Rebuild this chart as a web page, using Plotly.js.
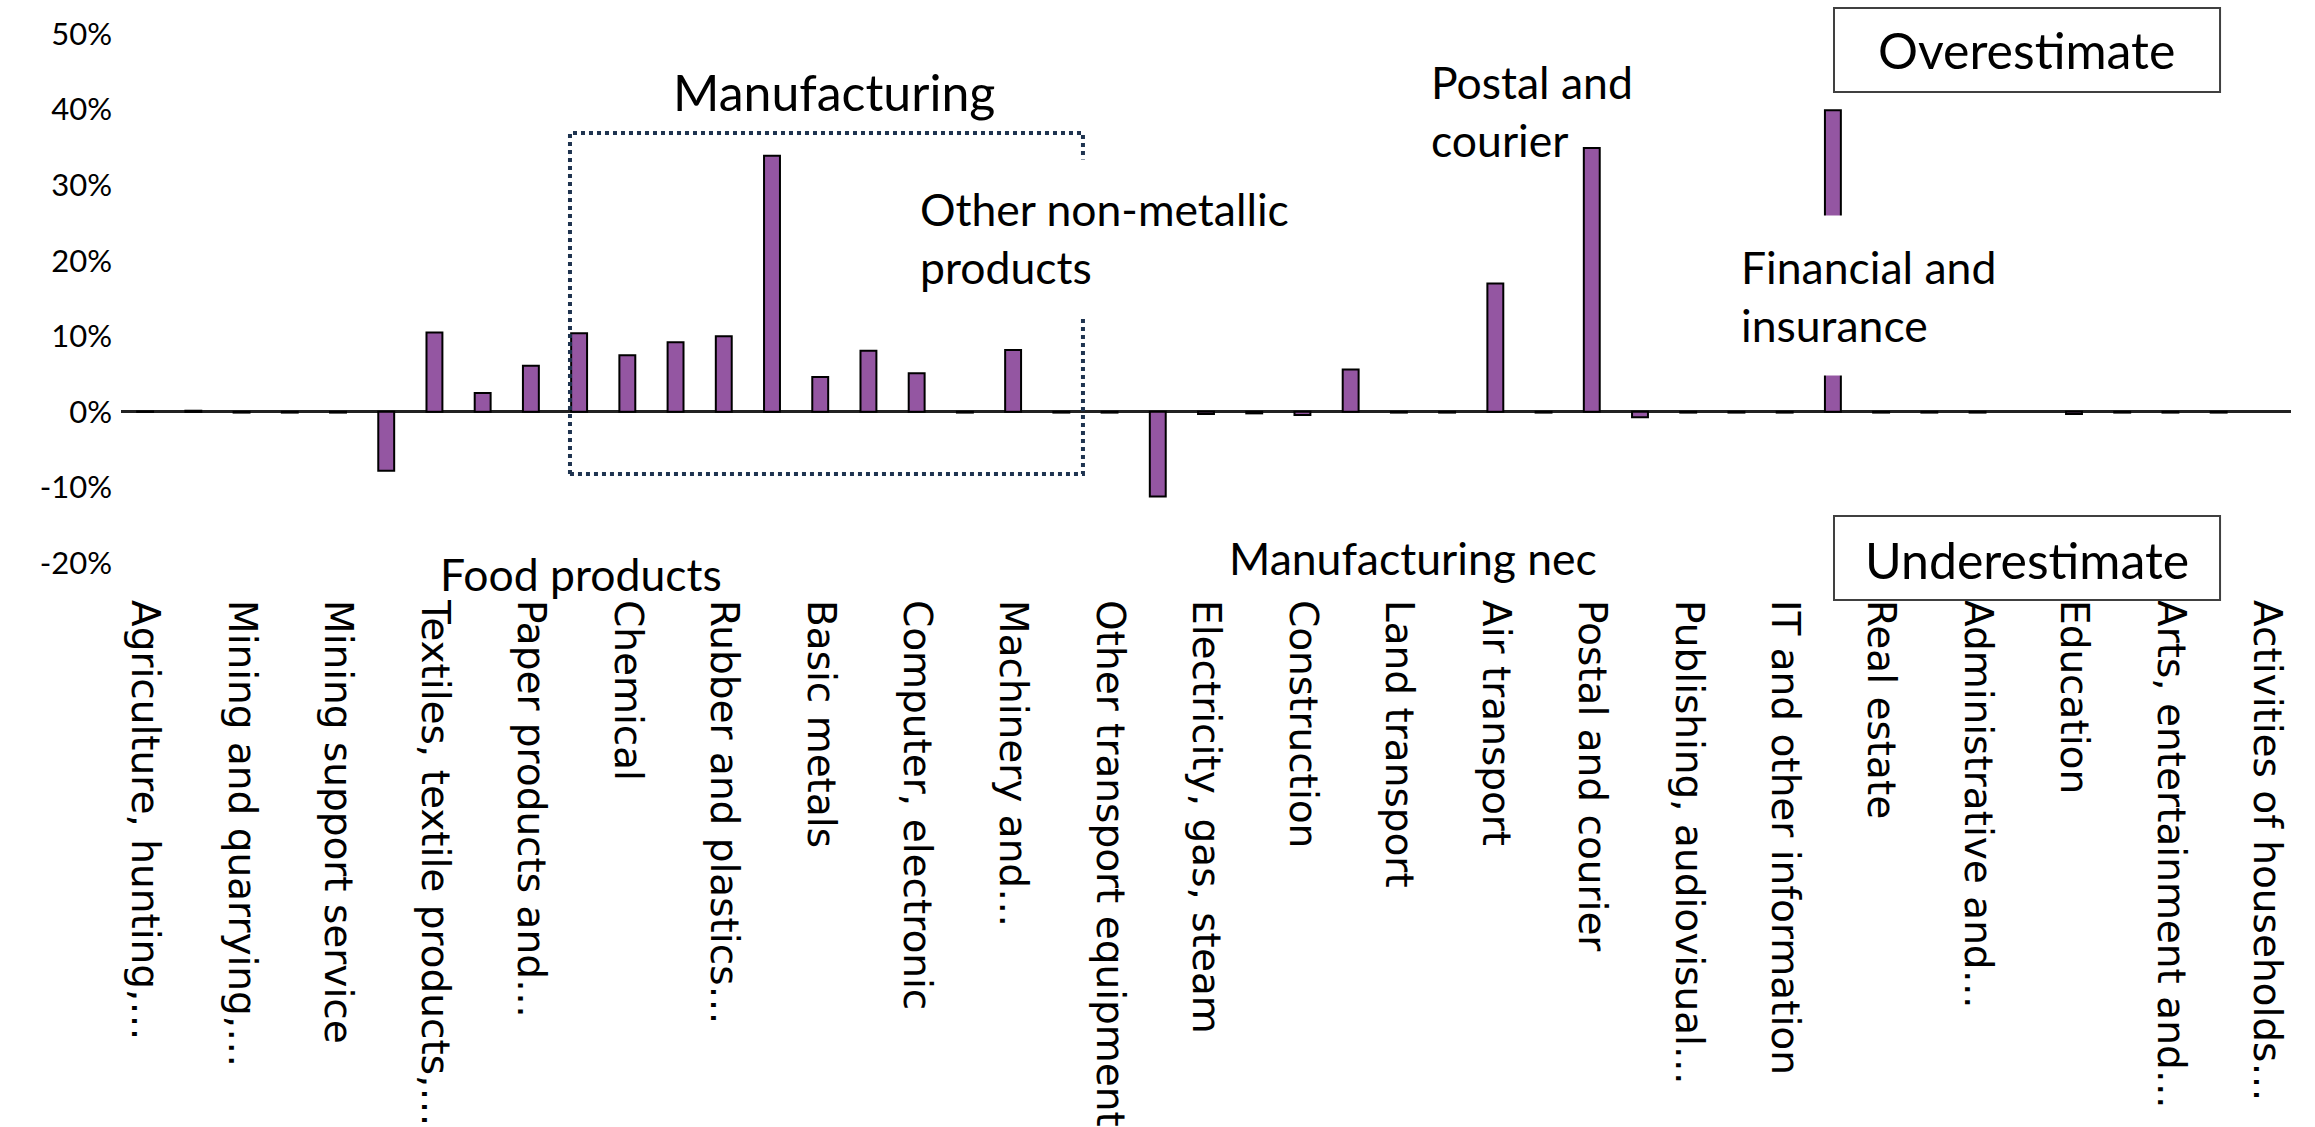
<!DOCTYPE html>
<html>
<head>
<meta charset="utf-8">
<script src="https://cdn.plot.ly/plotly-3.0.1.min.js"></script>
<style>
html,body{margin:0;padding:0;background:#fff;}
#chart{width:2315px;height:1127px;}
</style>
</head>
<body>
<div id="chart"></div>
<script>
// Industries (45), in chart order
const categories = [
  "Agriculture, hunting, forestry",
  "Fishing and aquaculture",
  "Mining and quarrying, energy producing products",
  "Mining and quarrying, non-energy producing products",
  "Mining support service activities",
  "Food products, beverages and tobacco",
  "Textiles, textile products, leather and footwear",
  "Wood and products of wood and cork",
  "Paper products and printing",
  "Coke and refined petroleum products",
  "Chemical and chemical products",
  "Pharmaceuticals",
  "Rubber and plastics products",
  "Other non-metallic mineral products",
  "Basic metals",
  "Fabricated metal products",
  "Computer, electronic and optical equipment",
  "Electrical equipment",
  "Machinery and equipment nec",
  "Motor vehicles, trailers and semi-trailers",
  "Other transport equipment",
  "Manufacturing nec; repair and installation",
  "Electricity, gas, steam and air conditioning",
  "Water supply; sewerage, waste management",
  "Construction",
  "Wholesale and retail trade",
  "Land transport and transport via pipelines",
  "Water transport",
  "Air transport",
  "Warehousing and support activities for transportation",
  "Postal and courier activities",
  "Accommodation and food service activities",
  "Publishing, audiovisual and broadcasting activities",
  "Telecommunications",
  "IT and other information services",
  "Financial and insurance activities",
  "Real estate activities",
  "Professional, scientific and technical activities",
  "Administrative and support services",
  "Public administration and defence",
  "Education",
  "Human health and social work activities",
  "Arts, entertainment and recreation",
  "Other service activities",
  "Activities of households as employers"
];

// Estimation error (%)
const errorPct = [
  0.05, 0.15, -0.1, -0.1, -0.1, -7.8, 10.5, 2.5, 6.1, 10.4,
  7.5, 9.2, 10.0, 33.9, 4.6, 8.1, 5.1, -0.1, 8.2, -0.1,
  -0.1, -11.2, -0.3, -0.2, -0.4, 5.6, -0.1, -0.1, 17.0, -0.1,
  34.9, -0.7, -0.1, -0.1, -0.1, 39.9, -0.1, -0.1, -0.1, null,
  -0.3, -0.1, -0.1, -0.1, null
];

// Tick labels shown (every other category)
const tickLabels = [
  "Agriculture, hunting,…",
  "Mining and quarrying,…",
  "Mining support service",
  "Textiles, textile products,…",
  "Paper products and…",
  "Chemical",
  "Rubber and plastics…",
  "Basic metals",
  "Computer, electronic",
  "Machinery and…",
  "Other transport equipment",
  "Electricity, gas, steam",
  "Construction",
  "Land transport",
  "Air transport",
  "Postal and courier",
  "Publishing, audiovisual…",
  "IT and other information",
  "Real estate",
  "Administrative and…",
  "Education",
  "Arts, entertainment and…",
  "Activities of households…"
];

const yTickVals = [-20, -10, 0, 10, 20, 30, 40, 50];
const yTickText = yTickVals.map(v => v + "%");

const tickVals = categories.filter((c, i) => i % 2 === 0);

const FAM = "Lato, 'Open Sans', sans-serif";
const bigFont = {family: FAM, size: 50, color: "#000"};
const midFont = {family: FAM, size: 44.5, color: "#000"};

const trace = {
  type: "bar",
  x: categories,
  y: errorPct,
  marker: {color: "#9456a2", line: {color: "#000", width: 2}},
  hoverinfo: "x+y"
};

const layout = {
  width: 2315, height: 1127,
  margin: {l: 121, r: 24, t: 34, b: 564},
  paper_bgcolor: "#fff", plot_bgcolor: "#fff",
  showlegend: false,
  bargap: 0.67,
  xaxis: {
    type: "category",
    tickvals: tickVals,
    ticktext: tickLabels,
    tickangle: 90,
    ticks: "",
    ticklabelstandoff: 36,
    showgrid: false, showline: false, zeroline: false,
    tickfont: {family: "DejaVu Sans, sans-serif", size: 39, color: "#000"}
  },
  yaxis: {
    range: [-20, 50],
    tickvals: yTickVals,
    ticktext: yTickText,
    ticks: "",
    ticklabelstandoff: 8,
    showgrid: false, showline: false,
    zeroline: true, zerolinecolor: "#222", zerolinewidth: 2.5,
    tickfont: {family: FAM, size: 31, color: "#000"}
  },
  shapes: [
    {type: "rect", xref: "paper", yref: "paper", x0: 0.2069, x1: 0.4433, y0: 0.1682, y1: 0.8129,
     line: {color: "#1f3450", width: 4, dash: "dot"}, fillcolor: "rgba(0,0,0,0)", layer: "above"},
    {type: "rect", xref: "paper", yref: "paper", x0: 0.7894, x1: 0.9673, y0: 0.8904, y1: 1.0491,
     line: {color: "#404040", width: 2}, fillcolor: "#fff", layer: "above"},
    {type: "rect", xref: "paper", yref: "paper", x0: 0.7894, x1: 0.9673, y0: -0.0699, y1: 0.0888,
     line: {color: "#404040", width: 2}, fillcolor: "#fff", layer: "above"}
  ],
  annotations: [
    {text: "Manufacturing", xref: "paper", yref: "paper", x: 0.3286, y: 0.8904,
     xanchor: "center", yanchor: "middle", showarrow: false, font: bigFont},
    {text: "Other non-metallic<br>products", xref: "paper", yref: "paper", x: 0.3576, y: 0.616,
     xanchor: "left", yanchor: "middle", align: "left", showarrow: false, font: midFont,
     bgcolor: "#fff", borderpad: 22},
    {text: "Postal and<br>courier", xref: "paper", yref: "paper", x: 0.6028, y: 0.856,
     xanchor: "left", yanchor: "middle", align: "left", showarrow: false, font: midFont},
    {text: "Financial and<br>insurance", xref: "paper", yref: "paper", x: 0.7352, y: 0.505,
     xanchor: "left", yanchor: "middle", align: "left", showarrow: false, font: midFont,
     bgcolor: "#fff", borderpad: 24},
    {text: "Food products", xref: "paper", yref: "paper", x: 0.212, y: -0.019,
     xanchor: "center", yanchor: "middle", showarrow: false, font: midFont},
    {text: "Manufacturing nec", xref: "paper", yref: "paper", x: 0.5954, y: 0.011,
     xanchor: "center", yanchor: "middle", showarrow: false, font: midFont},
    {text: "Overestimate", xref: "paper", yref: "paper", x: 0.8783, y: 0.9698,
     xanchor: "center", yanchor: "middle", showarrow: false, font: bigFont},
    {text: "Underestimate", xref: "paper", yref: "paper", x: 0.8783, y: 0.0057,
     xanchor: "center", yanchor: "middle", showarrow: false, font: bigFont}
  ]
};

Plotly.newPlot("chart", [trace], layout, {displayModeBar: false, responsive: false});
</script>
</body>
</html>
